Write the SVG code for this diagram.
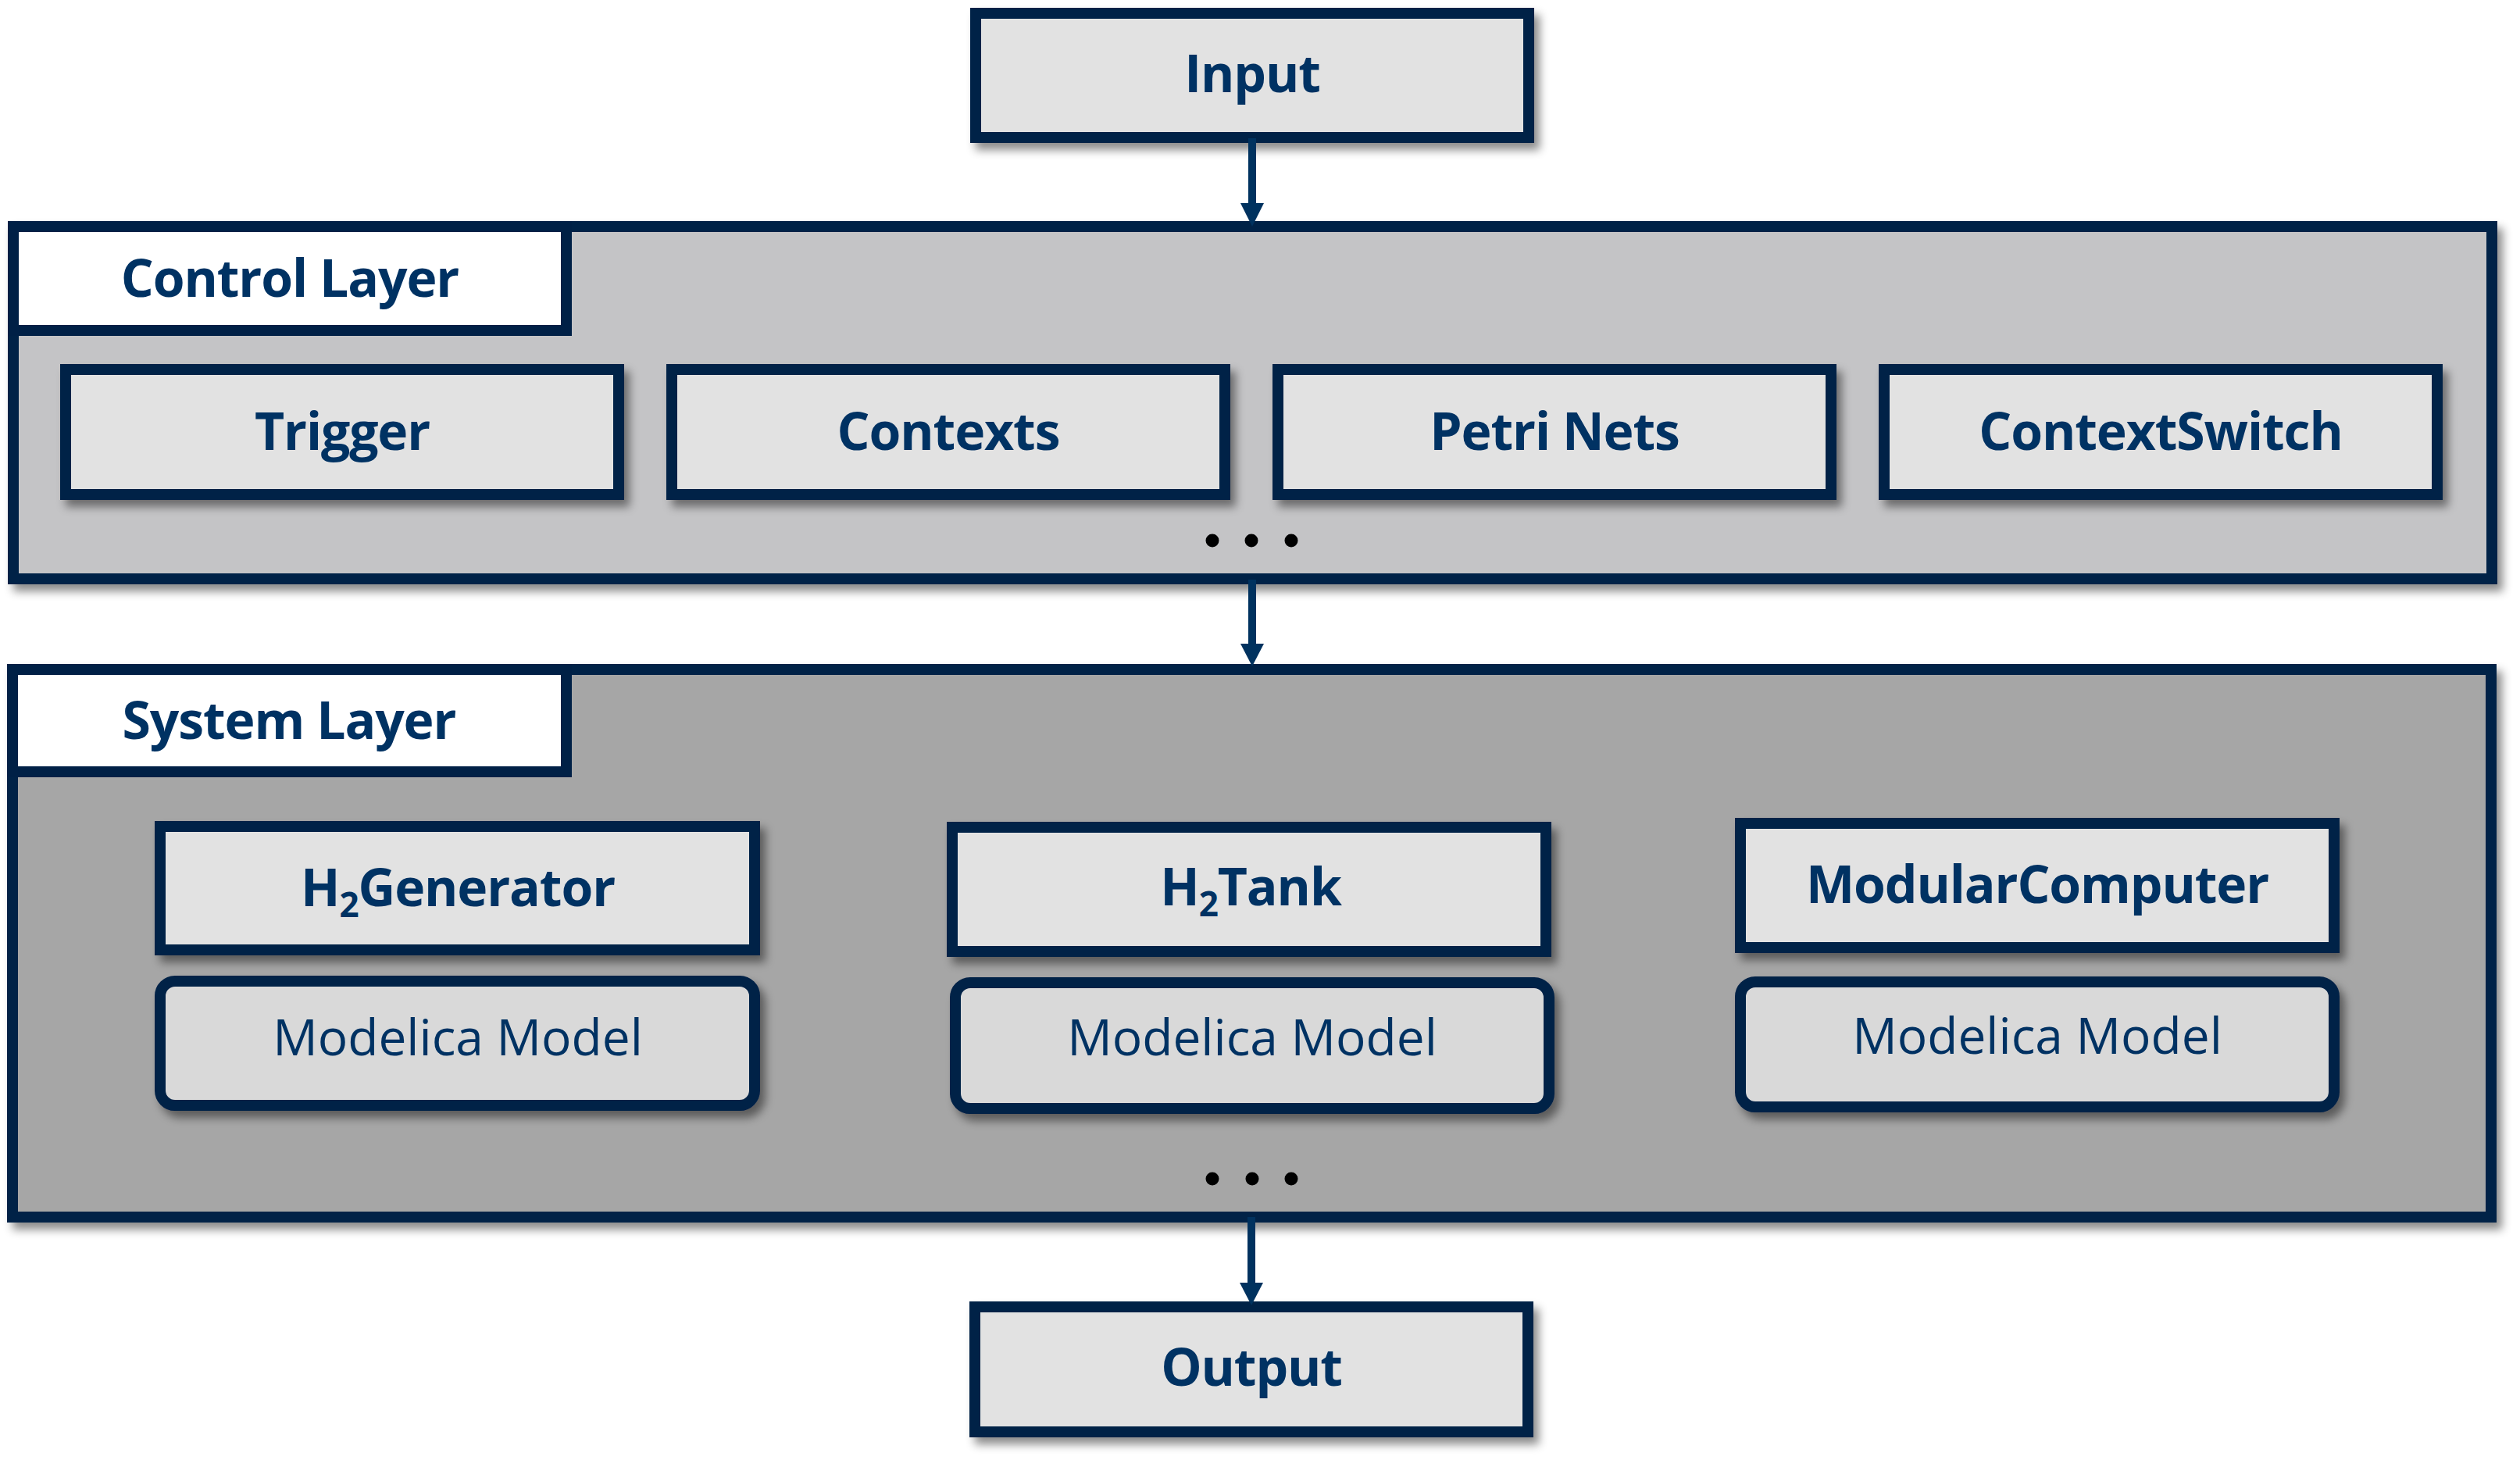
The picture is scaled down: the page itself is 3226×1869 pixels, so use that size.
<svg xmlns="http://www.w3.org/2000/svg" width="3226" height="1869" viewBox="0 0 3226 1869">
<defs>
<filter id="sh" x="-5%" y="-10%" width="115%" height="130%">
<feDropShadow dx="7" dy="9" stdDeviation="6" flood-color="#000" flood-opacity="0.45"/>
</filter>
<style>
.layer{stroke:#002046;stroke-width:14;filter:url(#sh)}
.tab{fill:#ffffff;stroke:#002046;stroke-width:14}
.box{fill:#e2e2e2;stroke:#002046;stroke-width:14;filter:url(#sh)}
.model{fill:#d9d9d9;stroke:#002046;stroke-width:14;filter:url(#sh)}
.b{font-family:"Open Sans","Noto Sans","DejaVu Sans",sans-serif;font-weight:700;font-size:66px;letter-spacing:-1.1px;fill:#003263;text-anchor:middle}
.r{font-family:"Open Sans","Noto Sans","DejaVu Sans",sans-serif;font-weight:400;font-size:64px;fill:#003263;text-anchor:middle}
.sub{font-size:44px}
.dot{fill:#000}
.conn{stroke:#00325f;stroke-width:10;fill:none}
.head{fill:#00325f}
</style>
</defs>
<rect width="3226" height="1869" fill="#ffffff"/>

<g id="control-layer">
<rect class="layer" x="17" y="290" width="3173" height="451" fill="#c4c4c6"/>
<rect class="tab" x="17" y="290" width="708" height="133"/>
<text class="b" x="371" y="380">Control Layer</text>
<circle class="dot" cx="1552" cy="692" r="8.5"/>
<circle class="dot" cx="1602" cy="692" r="8.5"/>
<circle class="dot" cx="1653" cy="692" r="8.5"/>
</g>

<g id="system-layer">
<rect class="layer" x="16" y="857" width="3173" height="701" fill="#a6a6a6"/>
<rect class="tab" x="16" y="857" width="709" height="131"/>
<text class="b" x="370" y="946">System Layer</text>
<circle class="dot" cx="1552" cy="1509" r="8.5"/>
<circle class="dot" cx="1603" cy="1509" r="8.5"/>
<circle class="dot" cx="1653" cy="1509" r="8.5"/>
</g>

<g id="input">
<rect class="box" x="1249" y="17" width="708" height="159"/>
<text class="b" x="1603" y="118">Input</text>
</g>

<g id="trigger">
<rect class="box" x="84" y="473" width="708" height="160"/>
<text class="b" x="438" y="576">Trigger</text>
</g>
<g id="contexts">
<rect class="box" x="860" y="473" width="708" height="160"/>
<text class="b" x="1214" y="576">Contexts</text>
</g>
<g id="petri-nets">
<rect class="box" x="1636" y="473" width="708" height="160"/>
<text class="b" x="1990" y="576">Petri Nets</text>
</g>
<g id="contextswitch">
<rect class="box" x="2412" y="473" width="708" height="160"/>
<text class="b" x="2766" y="576">ContextSwitch</text>
</g>

<g id="h2generator">
<rect class="box" x="205" y="1058" width="761" height="158"/>
<text class="b" x="586" y="1160">H<tspan class="sub" dy="14">2</tspan><tspan dy="-14">Generator</tspan></text>
</g>
<g id="h2generator-model">
<rect class="model" x="205" y="1256" width="761" height="159" rx="19" ry="19"/>
<text class="r" x="586" y="1351">Modelica Model</text>
</g>

<g id="h2tank">
<rect class="box" x="1219" y="1059" width="760" height="159"/>
<text class="b" x="1601" y="1159">H<tspan class="sub" dy="14">2</tspan><tspan dy="-14">Tank</tspan></text>
</g>
<g id="h2tank-model">
<rect class="model" x="1223" y="1258" width="760" height="161" rx="19" ry="19"/>
<text class="r" x="1603" y="1351">Modelica Model</text>
</g>

<g id="modularcomputer">
<rect class="box" x="2228" y="1054" width="760" height="159"/>
<text class="b" x="2608" y="1156">ModularComputer</text>
</g>
<g id="modularcomputer-model">
<rect class="model" x="2228" y="1257" width="760" height="160" rx="19" ry="19"/>
<text class="r" x="2608" y="1349">Modelica Model</text>
</g>

<g id="output">
<rect class="box" x="1248" y="1673" width="708" height="160"/>
<text class="b" x="1602" y="1774">Output</text>
</g>

<g id="connectors">
<line class="conn" x1="1603" y1="177" x2="1603" y2="264"/>
<polygon class="head" points="1588,260 1618,260 1603,290"/>
<line class="conn" x1="1603" y1="742" x2="1603" y2="828"/>
<polygon class="head" points="1588,824 1618,824 1603,853"/>
<line class="conn" x1="1602" y1="1558" x2="1602" y2="1646"/>
<polygon class="head" points="1587,1642 1617,1642 1602,1671"/>
</g>
</svg>
